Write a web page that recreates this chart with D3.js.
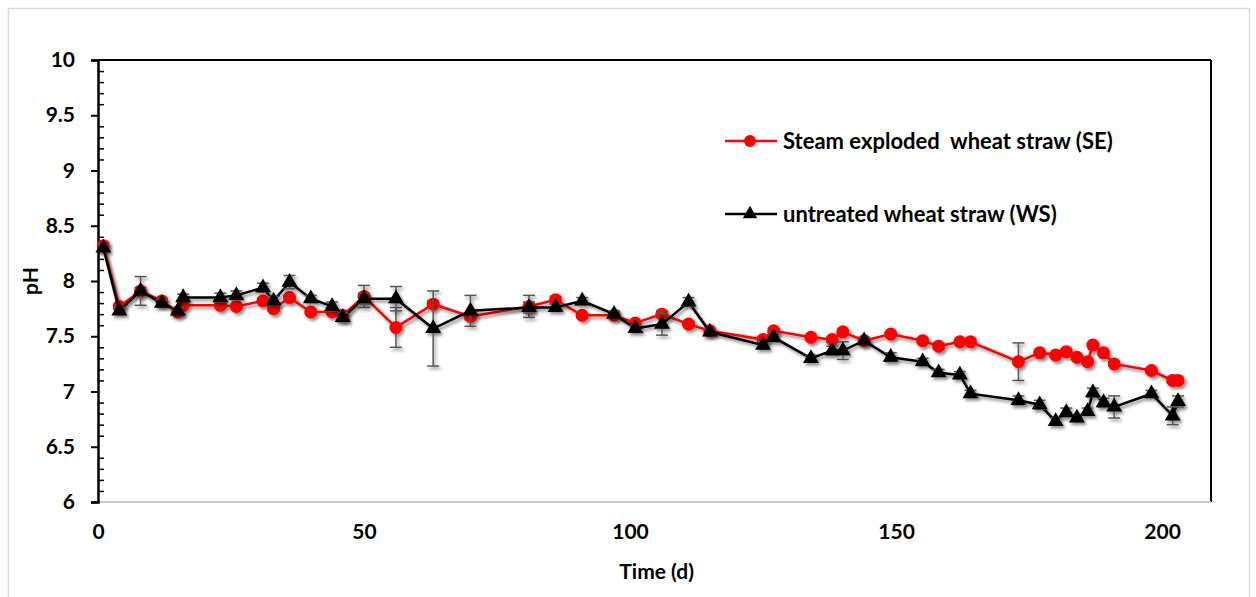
<!DOCTYPE html>
<html>
<head>
    <title>pH over time</title>
    <script src="https://d3js.org/d3.v7.min.js"></script>
    <style>
        body { margin: 0; background: #fff; }
        text { font-family: Lato, "Open Sans", sans-serif; font-weight: bold; fill: #000; white-space: pre; }
    </style>
</head>
<body>
<script>
// Sampling days (d)
const days = [1,4,8,12,15,16,23,26,31,33, 36,40,44,46,50,56,63,70,81,86,
              91,97,101,106,111,115,125,127,134,138, 140,144,149,155,158,162,164,173,177,180,
              182,184,186,187,189,191,198,202,203];

// Steam exploded wheat straw (SE): mean pH and error
const sePH = [8.32,7.77,7.91,7.82,7.72,7.78,7.78,7.77,7.82,7.75, 7.85,7.72,7.72,7.69,7.86,7.58,7.79,7.68,7.77,7.83,
              7.69,7.69,7.62,7.70,7.61,7.55,7.47,7.55,7.49,7.47, 7.54,7.46,7.52,7.46,7.41,7.45,7.45,7.27,7.35,7.33,
              7.36,7.31,7.27,7.42,7.35,7.25,7.19,7.10,7.10];
const seErr = [0.03,0.02,0.03,0.02,0.03,0.02,0.02,0.02,0.02,0.02, 0.02,0.02,0.02,0.03,0.10,0.18,0.03,0.03,0.10,0.03,
               0.02,0.02,0.02,0.03,0.02,0.02,0.02,0.02,0.02,0.02, 0.02,0.02,0.02,0.02,0.02,0.02,0.02,0.17,0.02,0.02,
               0.02,0.02,0.02,0.02,0.02,0.02,0.02,0.02,0.02];

// Untreated wheat straw (WS): mean pH and error
const wsPH = [8.30,7.73,7.91,7.80,7.73,7.85,7.85,7.87,7.94,7.82, 7.99,7.84,7.77,7.67,7.84,7.84,7.57,7.73,7.76,7.76,
              7.82,7.70,7.57,7.61,7.81,7.54,7.42,7.49,7.30,7.37, 7.37,7.46,7.31,7.27,7.17,7.15,6.98,6.92,6.88,6.73,
              6.81,6.76,6.82,6.99,6.90,6.86,6.98,6.78,6.91];
const wsErr = [0.03,0.03,0.13,0.03,0.03,0.03,0.04,0.04,0.04,0.04, 0.06,0.03,0.04,0.04,0.05,0.11,0.34,0.14,0.05,0.03,
               0.03,0.03,0.03,0.10,0.04,0.03,0.03,0.04,0.03,0.04, 0.08,0.03,0.04,0.03,0.03,0.03,0.03,0.04,0.04,0.03,
               0.04,0.03,0.03,0.04,0.04,0.10,0.03,0.08,0.05];

const xTicks = [0, 50, 100, 150, 200];
const yTicks = [6, 6.5, 7, 7.5, 8, 8.5, 9, 9.5, 10];

const seriesNames = ["Steam exploded  wheat straw (SE)", "untreated wheat straw (WS)"];

// Build series
const series = [
    {name: seriesNames[0], color: "#ff0000", shape: "circle", pts: days.map((d, i) => ({t: d, v: sePH[i], e: seErr[i]}))},
    {name: seriesNames[1], color: "#000000", shape: "triangle", pts: days.map((d, i) => ({t: d, v: wsPH[i], e: wsErr[i]}))}
];

const W = 1256, H = 597;
const margin = {top: 60, right: 45, bottom: 95, left: 98},
      width = W - margin.left - margin.right,
      height = H - margin.top - margin.bottom;

const svg = d3.select("body").append("svg")
    .attr("width", W)
    .attr("height", H);

// Soft shadow like the original
const defs = svg.append("defs");
const f = defs.append("filter").attr("id", "shadow")
    .attr("x", "-20%").attr("y", "-20%").attr("width", "140%").attr("height", "140%");
f.append("feDropShadow").attr("dx", 2).attr("dy", 2.5).attr("stdDeviation", 1.6)
    .attr("flood-color", "#000").attr("flood-opacity", 0.45);

// Outer chart border
svg.append("rect")
    .attr("x", 8.5).attr("y", 8.5)
    .attr("width", 1241).attr("height", 600)
    .attr("fill", "none").attr("stroke", "#d9d9d9").attr("stroke-width", 1.5);

const g = svg.append("g").attr("transform", `translate(${margin.left},${margin.top})`);

const x = d3.scaleLinear().domain([0, 209.2]).range([0, width]);
const y = d3.scaleLinear().domain([6, 10]).range([height, 0]);

// Plot border: black top and right, grey bottom
g.append("line").attr("x1", 0).attr("x2", width).attr("y1", 0).attr("y2", 0)
    .attr("stroke", "#000").attr("stroke-width", 2);
g.append("line").attr("x1", width).attr("x2", width).attr("y1", 0).attr("y2", height)
    .attr("stroke", "#000").attr("stroke-width", 2);
g.append("line").attr("x1", 0).attr("x2", width).attr("y1", height).attr("y2", height)
    .attr("stroke", "#c8c8c8").attr("stroke-width", 2);

// Y axis major ticks (outside)
const yAxis = g.append("g")
    .call(d3.axisLeft(y).tickValues(yTicks).tickSize(7).tickPadding(16)
        .tickFormat(d => d3.format("")(d)));
yAxis.select(".domain").attr("stroke", "#000").attr("stroke-width", 2.5);
yAxis.selectAll(".tick line").attr("stroke", "#000").attr("stroke-width", 2);
yAxis.selectAll(".tick text").style("font-size", "21px").attr("font-family", null);

// Y axis minor ticks (inside)
const minor = d3.range(60, 101).map(v => v / 10).filter(v => Math.round(v * 10) % 5 !== 0);
const yMinor = g.append("g")
    .call(d3.axisLeft(y).tickValues(minor).tickSize(-6).tickFormat(""));
yMinor.select(".domain").remove();
yMinor.selectAll(".tick line").attr("stroke", "#000").attr("stroke-width", 1.5);

// X axis labels (no tick marks)
const xAxis = g.append("g")
    .attr("transform", `translate(0,${height})`)
    .call(d3.axisBottom(x).tickValues(xTicks).tickSize(0).tickPadding(22));
xAxis.select(".domain").remove();
xAxis.selectAll(".tick text").style("font-size", "21px").attr("font-family", null);

// Axis titles
svg.append("text")
    .attr("x", margin.left + x(105)).attr("y", 579)
    .attr("text-anchor", "middle").style("font-size", "21px")
    .text("Time (d)");
svg.append("text")
    .attr("transform", "translate(38,281) rotate(-90)")
    .attr("text-anchor", "middle").style("font-size", "21px")
    .text("pH");

const line = d3.line().x(d => x(d.t)).y(d => y(d.v));
const triangle = d3.symbol().type(d3.symbolTriangle).size(110);

series.forEach(s => {
    const sg = g.append("g").attr("filter", "url(#shadow)");
    sg.append("path")
        .datum(s.pts)
        .attr("fill", "none")
        .attr("stroke", s.color)
        .attr("stroke-width", 2.5)
        .attr("d", line);

    // error bars
    const eb = sg.append("g").selectAll("g").data(s.pts).join("g");
    eb.append("line")
        .attr("x1", d => x(d.t)).attr("x2", d => x(d.t))
        .attr("y1", d => y(d.v + d.e)).attr("y2", d => y(d.v - d.e))
        .attr("stroke", "#555").attr("stroke-width", 1.5);
    eb.append("line")
        .attr("x1", d => x(d.t) - 6).attr("x2", d => x(d.t) + 6)
        .attr("y1", d => y(d.v + d.e)).attr("y2", d => y(d.v + d.e))
        .attr("stroke", "#555").attr("stroke-width", 1.5);
    eb.append("line")
        .attr("x1", d => x(d.t) - 6).attr("x2", d => x(d.t) + 6)
        .attr("y1", d => y(d.v - d.e)).attr("y2", d => y(d.v - d.e))
        .attr("stroke", "#555").attr("stroke-width", 1.5);

    if (s.shape === "circle") {
        sg.append("g").selectAll("circle").data(s.pts).join("circle")
            .attr("cx", d => x(d.t)).attr("cy", d => y(d.v))
            .attr("r", 6.5).attr("fill", s.color);
    } else {
        sg.append("g").selectAll("path").data(s.pts).join("path")
            .attr("transform", d => `translate(${x(d.t)},${y(d.v)})`)
            .attr("d", triangle).attr("fill", s.color);
    }
});

// Legend
const legendY = [141, 214];
series.forEach((s, i) => {
    const lg = svg.append("g").attr("transform", `translate(725,${legendY[i]})`);
    lg.append("line").attr("x1", 0).attr("x2", 52).attr("y1", 0).attr("y2", 0)
        .attr("stroke", s.color).attr("stroke-width", 2.5);
    if (s.shape === "circle") {
        lg.append("circle").attr("cx", 25).attr("cy", 0).attr("r", 6).attr("fill", s.color);
    } else {
        lg.append("path").attr("transform", "translate(25,0)")
            .attr("d", d3.symbol().type(d3.symbolTriangle).size(90)).attr("fill", s.color);
    }
    lg.append("text").attr("x", 58).attr("y", 0).attr("dy", "0.35em")
        .style("font-size", "22px").text(s.name);
});
</script>
</body>
</html>
